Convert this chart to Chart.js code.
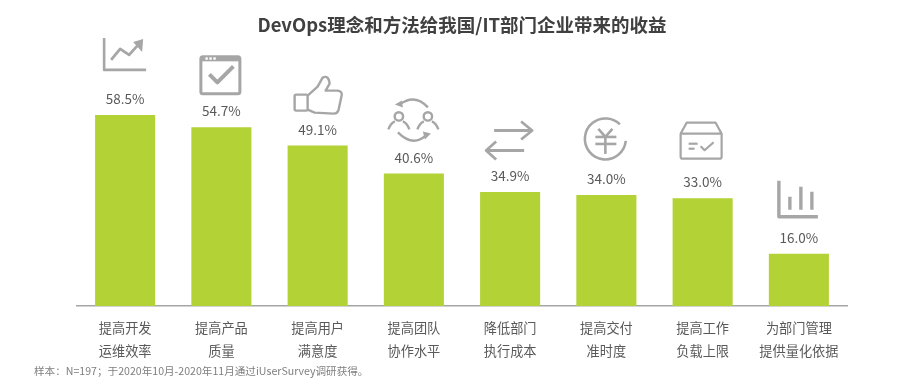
<!DOCTYPE html>
<html>
<head>
<meta charset="utf-8">
<style>html,body{margin:0;padding:0;background:#fff}canvas{display:block}</style>
<script src="https://cdn.jsdelivr.net/npm/chart.js@4"></script>
</head>
<body>
<canvas id="c" width="903" height="381"></canvas>
<script>
const categories = [
  ['提高开发','运维效率'],['提高产品','质量'],['提高用户','满意度'],['提高团队','协作水平'],
  ['降低部门','执行成本'],['提高交付','准时度'],['提高工作','负载上限'],['为部门管理','提供量化依据']
];
const values = [58.5,54.7,49.1,40.6,34.9,34.0,33.0,16.0];
const chartTitle = 'DevOps理念和方法给我国/IT部门企业带来的收益';
const footnote = '样本：N=197；于2020年10月-2020年11月通过iUserSurvey调研获得。';
const CJK = '"Noto Sans CJK SC","Noto Sans",sans-serif';
const GREY = '#a6a6a6';

function line(g, pts, close){
  g.beginPath();
  pts.forEach((p,i)=> i ? g.lineTo(p[0],p[1]) : g.moveTo(p[0],p[1]));
  if(close) g.closePath();
  g.stroke();
}
function arrowHead(g, pts){
  g.beginPath();
  pts.forEach((p,i)=> i ? g.lineTo(p[0],p[1]) : g.moveTo(p[0],p[1]));
  g.closePath(); g.fill();
}
/* Icons are decoration, drawn relative to the top centre of their bar */
const icons = [
  g=>{ g.lineWidth=2.6;
    line(g,[[-21,-77],[-21,-45],[21,-45]]);
    g.lineWidth=2.8; line(g,[[-14,-55],[-5,-66],[4,-60],[13,-70]]);
    arrowHead(g,[[18,-76],[8,-73],[17,-63]]);
  },
  g=>{ g.lineWidth=3;
    g.beginPath(); g.roundRect(-20.5,-70.5,39,37,2); g.stroke();
    g.fillRect(-20,-71,38,5);
    g.fillStyle='#fff';
    [-15,-11,-7].forEach(x=>g.fillRect(x-1,-70,2.4,2.4));
    g.lineWidth=4; line(g,[[-12,-53],[-4,-45],[12,-61]]);
  },
  g=>{ g.lineWidth=2.4;
    g.beginPath(); g.roundRect(-23,-51,13,16,1.5); g.stroke();
    g.beginPath(); g.moveTo(-10,-50); g.lineTo(0,-59); g.lineTo(5,-68);
    g.quadraticCurveTo(11,-71,12,-62); g.lineTo(8,-55); g.lineTo(20,-55);
    g.quadraticCurveTo(25,-54,24,-50); g.lineTo(21,-36);
    g.quadraticCurveTo(20,-32,16,-32); g.lineTo(-3,-33); g.lineTo(-10,-36); g.stroke();
  },
  g=>{ g.lineWidth=2.4;
    [-15,14].forEach(x=>{
      g.beginPath(); g.arc(x,-57,4.2,0,Math.PI*2); g.stroke();
      g.beginPath(); g.moveTo(x-10.5,-44); g.quadraticCurveTo(x-8,-50.5,x-4,-52); g.moveTo(x+4,-52); g.quadraticCurveTo(x+8,-50.5,x+10.5,-44); g.stroke();
    });
    g.beginPath(); g.moveTo(-14,-69); g.quadraticCurveTo(1,-80,14,-66); g.stroke();
    arrowHead(g,[[-19,-69],[-12,-73],[-11,-66]]);
    g.beginPath(); g.moveTo(-16,-41); g.quadraticCurveTo(-1,-26,12,-38); g.stroke();
    arrowHead(g,[[17,-40],[9,-42],[11,-34]]);
  },
  g=>{ g.lineWidth=2.8;
    line(g,[[-16,-61.5],[21,-61.5]]);
    line(g,[[11,-70.5],[22,-61.5],[11,-52.5]]);
    line(g,[[-23,-41.5],[14,-41.5]]);
    line(g,[[-14,-50.5],[-24,-41.5],[-14,-32.5]]);
  },
  g=>{ g.lineWidth=2.6;
    g.beginPath(); g.arc(-1,-56,20.5,0.1,-Math.PI/4,false); g.stroke();
    line(g,[[-8,-66],[-1,-58],[6,-66]]);
    line(g,[[-11,-58],[10,-58]]);
    line(g,[[-11,-51],[10,-51]]);
    line(g,[[-1,-58],[-1,-41]]);
  },
  g=>{ g.lineWidth=2.2;
    g.beginPath(); g.moveTo(-22,-64.5); g.lineTo(-16,-75.5); g.lineTo(13,-75.5); g.lineTo(19,-64.5);
    g.lineTo(19,-41.5); g.quadraticCurveTo(19,-39.5,17,-39.5); g.lineTo(-20,-39.5); g.quadraticCurveTo(-22,-39.5,-22,-41.5); g.closePath(); g.stroke();
    line(g,[[-22,-64.5],[19,-64.5]]);
    line(g,[[-14,-54.5],[-5,-54.5]]);
    line(g,[[-14,-49.5],[-8,-49.5]]);
    line(g,[[-2,-52],[2,-48],[11,-56]]);
  },
  g=>{ g.lineWidth=3.4;
    line(g,[[-20,-73],[-20,-37],[19,-37]]);
    line(g,[[-9,-57],[-9,-44]]);
    line(g,[[2,-67],[2,-44]]);
    line(g,[[13,-62],[13,-44]]);
  }
];

const decorations = {
  id:'decorations',
  afterDatasetsDraw(chart){
    const g = chart.ctx, meta = chart.getDatasetMeta(0);
    g.save();
    meta.data.forEach((bar,i)=>{
      g.fillStyle='#595959';
      g.font='13.5px '+CJK;
      g.textAlign='center'; g.textBaseline='middle';
      g.fillText(values[i].toFixed(1)+'%', bar.x, bar.y-16);
      g.save();
      g.translate(bar.x, bar.y);
      g.strokeStyle=GREY; g.fillStyle=GREY; g.lineCap='butt'; g.lineJoin='round';
      icons[i](g);
      g.restore();
    });
    g.fillStyle='#7f7f7f';
    g.font='10.6px '+CJK;
    g.textAlign='left'; g.textBaseline='middle';
    g.fillText(footnote, 34, 371);
    g.restore();
  }
};

new Chart(document.getElementById('c'),{
  type:'bar',
  data:{labels:categories,datasets:[{data:values,backgroundColor:'#b2d235',borderWidth:0,barPercentage:0.624,categoryPercentage:1}]},
  plugins:[decorations],
  options:{
    responsive:false,animation:false,
    layout:{padding:{left:77,right:56,top:0,bottom:0}},
    plugins:{
      legend:{display:false},tooltip:{enabled:false},
      title:{display:true,text:chartTitle,color:'#404040',
        font:{family:CJK,size:18.5,weight:'bold',lineHeight:'20px'},
        padding:{top:15,bottom:11}}
    },
    scales:{
      x:{
        grid:{display:false},
        border:{display:true,color:GREY,width:1.5},
        ticks:{color:'#595959',font:{family:CJK,size:13.2,lineHeight:'23px'},padding:2,maxRotation:0,autoSkip:false},
        afterFit(s){s.height=75;}
      },
      y:{display:false,min:0,max:79.6}
    }
  }
});
</script>
</body>
</html>
